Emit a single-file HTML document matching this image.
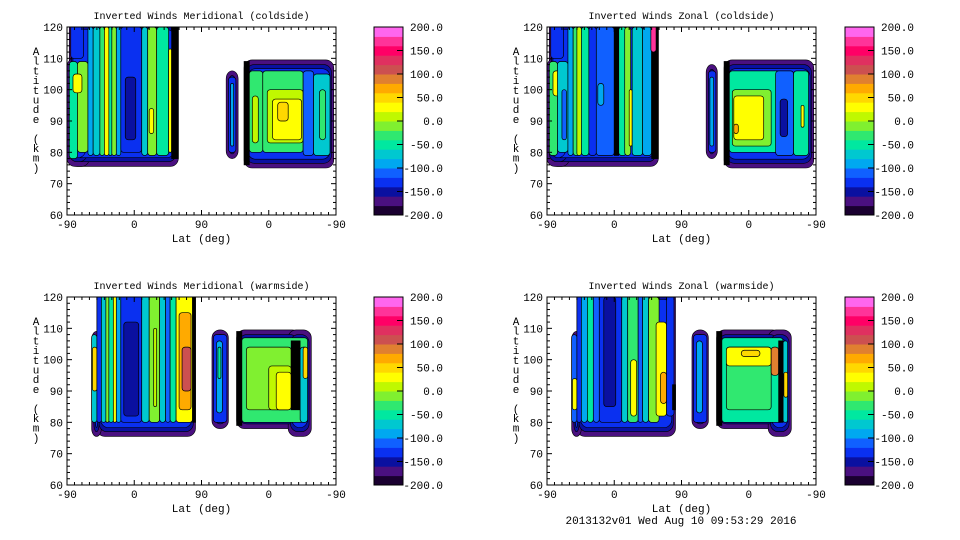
<!DOCTYPE html>
<html><head><meta charset="utf-8">
<style>
html,body{margin:0;padding:0;background:#fff;}
svg{display:block;font-family:"Liberation Mono",monospace;}
</style></head>
<body>
<svg id="fig" width="960" height="540" viewBox="0 0 960 540" xmlns="http://www.w3.org/2000/svg"></svg>
<script>
// ---- data ----
const bandLevels = [-200,-180,-160,-140,-120,-100,-80,-60,-40,-20,0,20,40,60,80,100,120,140,160,180];
const bandColors = ["#1a0030","#4a1080","#0a10a0","#0a30f0","#1060ff","#00a8f0","#00c8d0","#00e8a0","#30e870","#80f030","#c0f800","#ffff00","#ffd800","#ffaa00","#e08030","#cc5050","#e03060","#ff0066","#ff3399","#ff66ee"];
const cbarLabels = ["-200.0","-150.0","-100.0","-50.0","0.0","50.0","100.0","150.0","200.0"];
const cbarValues = [-200,-150,-100,-50,0,50,100,150,200];
const xTickLabels = ["-90","0","90","0","-90"];
const xTickValues = [0,90,180,270,360];
const yTickValues = [60,70,80,90,100,110,120];

const titles = ["Inverted Winds Meridional (coldside)","Inverted Winds Zonal (coldside)","Inverted Winds Meridional (warmside)","Inverted Winds Zonal (warmside)"];

// regions: [t0,t1,alt0,alt1]
const regionsMC = [[3,149,75.5,122],[0,30,75.5,110],[213,229,78,106],[237,357,75,109.5]];
const regionsZC = [[3,149,75.5,122],[0,30,75.5,110],[213,228,78,108],[237,357,75,109.5]];
const regionsMW = [[40,172,75.5,122],[33,46,75.5,109],[194,216,78,109.5],[227,312,78,109.5],[296,327,75.5,109.5]];
const regionsZW = [[40,172,75.5,122],[33,46,75.5,109],[194,216,78,109.5],[227,312,78,109.5],[296,327,75.5,109.5]];

// strips: [t0,t1,alt0,alt1,value]  (value -999 = black contour bunch)
const stripsMC = [[5,22,110,122,-140],[3,14,78,109,-60],[14,28,80,109,-20],[8,20,99,105,30],[28,35,79,120,-100],[35,44,79,120,-80],[44,50,79,120,-40],[50,56,79,120,20],[56,60,79,120,-60],[60,66,79,120,-20],[66,72,79,120,-100],[72,100,80,120,-140],[78,92,84,104,-160],[100,108,79,120,-80],[108,120,79,120,-20],[110,116,86,94,30],[120,136,79,120,-60],[136,140,80,113,20],[140,149,78,122,-999],
 [216,226,80,104,-140],[219,223,82,102,-100],
 [237,244,76,109,-999],[244,262,80,106,-40],[248,256,83,98,10],[262,316,80,106,-40],[268,316,83,100,0],[275,314,84,97,20],[282,296,90,96,40],[316,330,79,106,-120],[330,352,79,105,-80],[338,346,84,100,-40]];
const stripsZC = [[5,22,110,122,-140],[3,14,79,109,-40],[8,20,98,106,20],[14,28,80,109,-80],[20,26,84,100,-120],[28,35,79,120,-100],[35,44,79,120,-40],[40,46,79,120,10],[46,56,79,120,-60],[56,66,79,120,-140],[66,90,79,120,-120],[68,76,95,102,-100],[90,96,79,120,-999],[96,106,79,120,-60],[104,112,79,120,-20],[110,114,82,100,20],[114,128,79,120,-80],[128,140,79,120,-100],[140,149,78,122,-999],[139,146,112,121,160],
 [216,226,80,106,-140],[218,223,82,104,-100],
 [237,244,76,109,-999],[244,320,80,106,-60],[248,300,82,100,-20],[250,290,84,98,20],[250,256,86,89,60],[306,330,79,106,-120],[312,322,85,97,-160],[330,350,79,106,-60],[340,344,88,95,20]];
const stripsMW = [[33,40,80,108,-80],[34,40,90,104,40],[40,46,80,122,-140],[46,52,80,122,-80],[52,56,80,122,-20],[56,62,80,122,-60],[62,66,80,122,20],[66,72,80,122,-100],[72,100,80,122,-140],[76,96,82,112,-160],[100,110,80,122,-80],[110,124,80,122,-20],[116,120,85,110,10],[124,132,80,122,-80],[132,138,80,122,-120],[138,146,80,122,-60],[146,168,80,122,20],[150,166,84,115,60],[154,166,90,104,100],[168,172,80,122,-999],
 [196,214,80,108,-140],[200,208,83,106,-100],[202,206,94,104,-60],
 [227,234,79,109,-999],[234,322,80,107,-40],[240,300,84,104,-20],[270,300,84,98,0],[280,300,84,96,20],[300,312,84,106,-999],[312,322,80,104,-80],[316,322,94,104,40]];
const stripsZW = [[33,40,80,108,-120],[34,40,84,94,20],[40,46,80,122,-140],[46,54,80,122,-100],[54,62,80,122,-60],[62,70,80,122,-120],[70,100,80,122,-140],[76,92,85,120,-160],[100,108,80,122,-80],[108,122,80,122,-40],[112,120,82,100,20],[122,128,80,122,-120],[128,136,80,122,-80],[136,150,80,120,-20],[146,160,82,112,20],[152,160,86,96,60],[160,170,82,122,-140],[168,172,84,92,-999],
 [196,214,80,108,-140],[200,208,83,106,-100],
 [227,234,79,109,-999],[234,316,80,107,-60],[240,300,84,104,-40],[240,300,98,104,20],[260,285,101,103,40],[300,310,95,104,80],[310,316,80,106,-999],[316,322,80,106,-80],[317,322,88,96,40]];

const panelRegions = [regionsMC,regionsZC,regionsMW,regionsZW];
const panelStrips = [stripsMC,stripsZC,stripsMW,stripsZW];
const panelBoxes = [[67,27],[547,27],[67,297],[547,297]];
const cbarXs = [374,845,374,845];

// ---- drawing ----
const NS="http://www.w3.org/2000/svg";
const svg=document.getElementById('fig');
function mk(tag,attrs,parent){const e=document.createElementNS(NS,tag);for(const k in attrs)e.setAttribute(k,attrs[k]);(parent||svg).appendChild(e);return e;}
function colorOf(v){if(v===-999)return "#000";let i=0;for(let k=0;k<bandLevels.length;k++){if(v>=bandLevels[k])i=k;}return bandColors[i];}
const PW=269,PH=188;

panelBoxes.forEach((b,p)=>{
  const [x0,y0]=b;
  const xs=t=>x0+t*PW/360;
  const ys=a=>y0+(120-a)*PH/60;
  const g=mk('g',{});
  
  
  const clipId='clip'+p;
  const cp=mk('clipPath',{id:clipId},g);
  mk('rect',{x:x0,y:y0,width:PW,height:PH},cp);
  const plot=mk('g',{'clip-path':'url(#'+clipId+')'},g);
  
  
  // rims
  const rims=[[0,0,-180],[3,1.5,-160],[5,2.8,-140]];
  rims.forEach(([dt,da,v])=>{
    panelRegions[p].forEach(r=>{
      const x1=xs(r[0]+dt),x2=xs(r[1]-dt),y1=ys(r[3]-da),y2=ys(r[2]+da);
      if(x2>x1&&y2>y1){
        const rc=mk('rect',{x:x1,y:y1,width:x2-x1,height:y2-y1,rx:Math.min(8,(x2-x1)/2),ry:8,fill:colorOf(v),stroke:'#000','stroke-width':0.6},plot);
        
        
      }
    });
  });
  panelStrips[p].forEach(s=>{
    const x1=xs(s[0]),x2=xs(s[1]),y1=ys(s[3]),y2=ys(s[2]);
    const rc=mk('rect',{x:x1,y:y1,width:x2-x1,height:y2-y1,rx:s[4]===-999?0:Math.min(3,(x2-x1)/2),fill:colorOf(s[4]),stroke:'#000','stroke-width':0.7},plot);
    
    
  });
  // frame
  const fr=mk('rect',{x:x0,y:y0,width:PW,height:PH,fill:'none',stroke:'#000','stroke-width':1},g);
  
  
  // y ticks
  for(let a=60;a<=120;a+=2){
    const maj=a%10===0, L=maj?5:3;
    mk('line',{x1:x0,x2:x0+L,y1:ys(a),y2:ys(a),stroke:'#000','stroke-width':1},g);
    mk('line',{x1:x0+PW,x2:x0+PW-L,y1:ys(a),y2:ys(a),stroke:'#000','stroke-width':1},g);
  }
  yTickValues.forEach(a=>{
    const t=mk('text',{x:x0-4,y:ys(a)+4,'text-anchor':'end','font-size':11},g);
    
    
    t.textContent=a;
  });
  for(let d=0;d<=360;d+=10){
    const maj=d%90===0,L=maj?5:3;
    mk('line',{x1:xs(d),x2:xs(d),y1:y0+PH,y2:y0+PH-L,stroke:'#000','stroke-width':1},g);
    mk('line',{x1:xs(d),x2:xs(d),y1:y0,y2:y0+L,stroke:'#000','stroke-width':1},g);
  }
  xTickValues.forEach((d,i)=>{
    const t=mk('text',{x:xs(d),y:y0+PH+13,'text-anchor':'middle','font-size':11},g);
    
    
    t.textContent=xTickLabels[i];
  });
  const xt=mk('text',{x:x0+PW/2,y:y0+PH+27,'text-anchor':'middle','font-size':11},g);
  
  
  xt.textContent='Lat (deg)';
  const tt=mk('text',{x:x0+PW/2,y:y0-8,'text-anchor':'middle','font-size':10},g);
  
  
  tt.textContent=titles[p];
  const yt=mk('text',{x:x0-31,y:y0+26,'text-anchor':'middle','font-size':11},g);
  
  
  const letters='Altitude (km)'.split('');
  letters.forEach((c,i)=>{const ts=mk('tspan',{x:x0-31,y:y0+28+i*9.7},yt);ts.textContent=c;});
  // colorbar
  const cx=cbarXs[p], cw=29;
  const cg=mk('g',{},g);
  
  
  const cy=v=>y0+(200-v)*PH/400;
  bandLevels.forEach((lv,i)=>{
    mk('rect',{x:cx,y:cy(lv+20),width:cw,height:cy(lv)-cy(lv+20)+0.5,fill:bandColors[i]},cg);
  });
  mk('rect',{x:cx,y:y0,width:cw,height:PH,fill:'none',stroke:'#000','stroke-width':1},cg);
  cbarValues.forEach((v,i)=>{
    if(v>-200&&v<200){mk('line',{x1:cx+cw-6,x2:cx+cw,y1:cy(v),y2:cy(v),stroke:'#000'},cg);}
    const t=mk('text',{x:cx+69,y:cy(v)+4,'text-anchor':'end','font-size':11},cg);
    
    
    t.textContent=cbarLabels[i];
  });
});
const ft=mk('text',{x:681,y:524,'text-anchor':'middle','font-size':11});


ft.textContent='2013132v01 Wed Aug 10 09:53:29 2016';
</script>
</body></html>
